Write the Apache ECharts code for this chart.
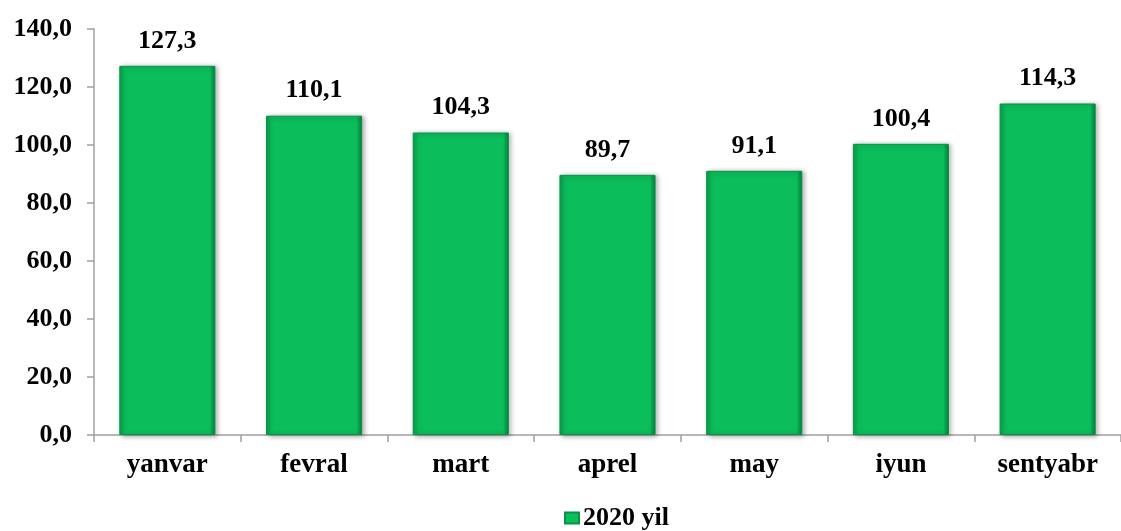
<!DOCTYPE html>
<html>
<head>
<meta charset="utf-8">
<script src="https://cdn.jsdelivr.net/npm/echarts@6/dist/echarts.min.js"></script>
<style>
html,body{margin:0;padding:0;background:#fff;}
#c{width:1121px;height:531px;}
</style>
</head>
<body>
<div id="c"></div>
<script>
const categories = ['yanvar','fevral','mart','aprel','may','iyun','sentyabr'];
const values2020 = [127.3, 110.1, 104.3, 89.7, 91.1, 100.4, 114.3];
const seriesName = '2020 yil';
const yTicks = {min: 0, max: 140, interval: 20};

const fmt = v => Number(v).toFixed(1).replace('.', ',');
const font = '"Liberation Serif", "Times New Roman", serif';

const barColor = new echarts.graphic.LinearGradient(0, 0, 1, 0, [
  {offset: 0, color: '#09a04d'},
  {offset: 0.06, color: '#0bbd5b'},
  {offset: 0.94, color: '#0bbd5b'},
  {offset: 1, color: '#067e3b'}
]);

const chart = echarts.init(document.getElementById('c'), null, {renderer: 'canvas'});
chart.setOption({
  backgroundColor: '#ffffff',
  animation: false,
  grid: {left: 94, top: 29, width: 1038, height: 406, containLabel: false},
  legend: {
    data: [seriesName],
    top: 500,
    left: 559,
    itemWidth: 14,
    itemHeight: 11,
    itemGap: 4,
    icon: 'rect',
    textStyle: {fontFamily: font, fontWeight: 'bold', fontSize: 26, color: '#000', padding: [0,0,0,-1]}
  },
  xAxis: {
    type: 'category',
    data: categories,
    axisLine: {lineStyle: {color: '#a0a0a0', width: 1.5}},
    axisTick: {show: true, length: 7, lineStyle: {color: '#a0a0a0', width: 1.5}},
    axisLabel: {fontFamily: font, fontWeight: 'bold', fontSize: 27, color: '#000', margin: 17}
  },
  yAxis: {
    type: 'value',
    min: yTicks.min,
    max: yTicks.max,
    interval: yTicks.interval,
    splitLine: {show: false},
    axisLine: {show: true, lineStyle: {color: '#a0a0a0', width: 1.5}},
    axisTick: {show: true, length: 7, lineStyle: {color: '#a0a0a0', width: 1.5}},
    axisLabel: {fontFamily: font, fontWeight: 'bold', fontSize: 26, color: '#000', margin: 22, formatter: fmt}
  },
  series: [{
    name: seriesName,
    type: 'bar',
    data: values2020,
    barWidth: '65.5%',
    itemStyle: {
      color: barColor,
      borderColor: '#079447',
      borderWidth: 1,
      shadowColor: 'rgba(0,0,0,0.35)',
      shadowBlur: 5,
      shadowOffsetX: 2,
      shadowOffsetY: 1
    },
    label: {
      show: true,
      position: 'top',
      distance: 12,
      fontFamily: font,
      fontWeight: 'bold',
      fontSize: 26,
      color: '#000',
      formatter: p => fmt(p.value)
    }
  }]
});
</script>
</body>
</html>
